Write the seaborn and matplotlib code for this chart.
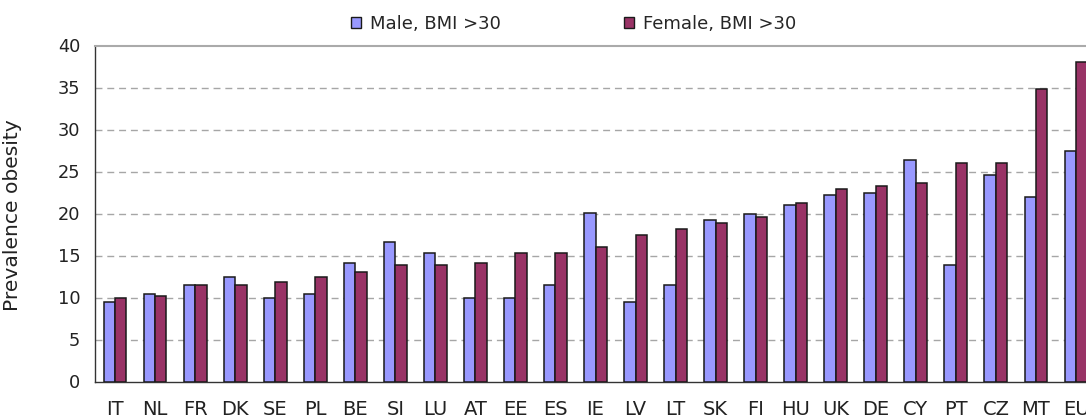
import numpy as np
import pandas as pd
import matplotlib
matplotlib.use("Agg")
import matplotlib.pyplot as plt
import seaborn as sns

# values
countries = ["IT", "NL", "FR", "DK", "SE", "PL", "BE", "SI", "LU", "AT", "EE", "ES", "IE",
             "LV", "LT", "SK", "FI", "HU", "UK", "DE", "CY", "PT", "CZ", "MT", "EU"]
male = [9.5, 10.4, 11.5, 12.5, 10.0, 10.4, 14.1, 16.6, 15.3, 10.0, 10.0, 11.5, 20.1,
        9.5, 11.5, 19.2, 19.9, 21.0, 22.2, 22.5, 26.4, 13.9, 24.6, 22.0, 27.5]
female = [10.0, 10.2, 11.5, 11.5, 11.8, 12.5, 13.0, 13.9, 13.9, 14.1, 15.3, 15.3, 16.0,
          17.4, 18.1, 18.9, 19.6, 21.2, 22.9, 23.3, 23.6, 26.0, 26.0, 34.8, 38.0]
series_names = ["Male, BMI >30", "Female, BMI >30"]
colors = ["#9999FF", "#993366"]

df = pd.DataFrame({
    "country": countries * 2,
    "value": male + female,
    "sex": [series_names[0]] * len(countries) + [series_names[1]] * len(countries),
})

sns.set_style("white")
plt.rcParams["font.family"] = ["DejaVu Sans"]

fig = plt.figure(figsize=(10.86, 4.2), dpi=100)
# axes run a little past the right edge, like the cropped original
ax = fig.add_axes([95 / 1086, 38.5 / 420, 1001 / 1086, 336 / 420])

sns.barplot(data=df, x="country", y="value", hue="sex", palette=colors, saturation=1,
            width=0.57, edgecolor="#1a1a1a", linewidth=1.1, ax=ax, zorder=3)
ax.get_legend().remove()

ax.set_xlim(-0.5, len(countries) - 0.5)
ax.set_ylim(0, 40)
ax.set_yticks(np.arange(0, 41, 5))
ax.tick_params(axis="y", direction="out", length=4, width=1, pad=6.5,
               labelsize=12.8, labelcolor="#222222", color="#333333")

# ticks at category boundaries, labels at centres
ax.set_xticks(np.arange(-0.5, len(countries), 1))
ax.set_xticklabels([])
ax.set_xticks(np.arange(len(countries)), minor=True)
ax.set_xticklabels(countries, minor=True)
ax.tick_params(axis="x", which="major", direction="out", length=5, width=1, color="#333333")
ax.tick_params(axis="x", which="minor", length=0, pad=13.5, labelsize=14, labelcolor="#222222")
ax.set_xlabel("")

for y in range(5, 40, 5):
    ax.axhline(y, color="#a6a6a6", linewidth=1.0, linestyle=(0, (5, 3.5)), zorder=1)

for s in ["left", "bottom"]:
    ax.spines[s].set_color("#333333")
    ax.spines[s].set_linewidth(1.0)
ax.spines["top"].set_color("#aaaaaa")
ax.spines["top"].set_linewidth(1.5)
ax.spines["right"].set_visible(False)

ax.set_ylabel("Prevalence obesity", fontsize=14.6, color="#222222")
ax.yaxis.set_label_coords(-0.073, 0.494)

handles = [plt.Rectangle((0, 0), 1, 1, facecolor=c, edgecolor="#1a1a1a", linewidth=1.0)
           for c in colors]
leg = fig.legend(handles, series_names, loc="center", bbox_to_anchor=(0.528, 0.943),
                 ncol=2, fontsize=13, frameon=True, framealpha=0.8, edgecolor="none",
                 facecolor="white", handlelength=0.55, handleheight=0.55,
                 handletextpad=0.5, columnspacing=6.8, borderpad=0.3)

fig.savefig("out.png", dpi=100)
